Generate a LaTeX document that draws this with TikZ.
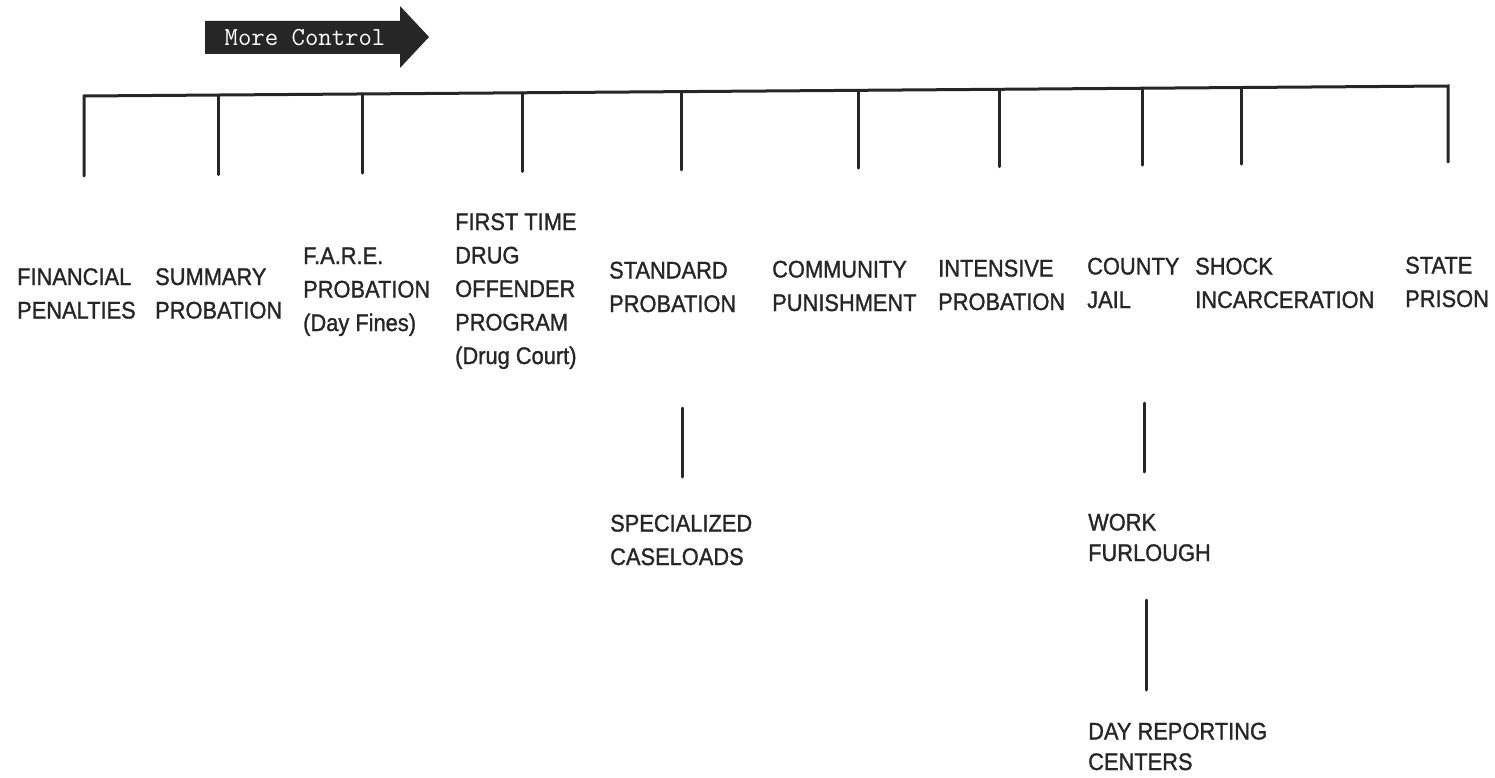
\documentclass[tikz,border=0pt]{standalone}
\usepackage{fontspec}
\setmainfont{Liberation Sans}[FakeStretch=0.91,FakeBold=1.2]
\definecolor{ink}{HTML}{262626}
\begin{document}
\begin{tikzpicture}[x=1pt,y=-1pt,
  lbl/.style={anchor=base west,inner sep=0pt,align=left,text=ink,
    font=\fontsize{24}{33.5}\selectfont},
  lblb/.style={lbl,font=\fontsize{24}{30.5}\selectfont},
  rule/.style={draw=ink,line width=3pt,line cap=round,line join=miter},
  arrowtxt/.style={text=white,inner sep=0pt,font=\ttfamily\fontsize{26}{26}\selectfont}]
\useasboundingbox[fill=white] (0,0) rectangle (1495,778);
% More Control arrow
\fill[ink] (205,21) -- (400,21) -- (400,6) -- (429,37) -- (400,68) -- (400,54) -- (205,54) -- cycle;
\node[arrowtxt] (mc) at (305,38) {More Control};
% bar and ticks
\foreach \i/\x/\y/\b in {1/84/96/176,2/218/95/174.6,3/362/94/173.1,4/522/92.8/171.5,
  5/681/91.6/169.9,6/858/90.3/168.1,7/999/89.3/166.6,8/1142/88.2/165.1,
  9/1241/87.5/164.1,10/1448/86/162}{
  \coordinate (t\i) at (\x,\y);
  \coordinate (b\i) at (\x,\b);
}
\draw[rule] (b1) -- (t1) -- (t10) -- (b10);
\foreach \i in {2,...,9}{\draw[rule] (t\i) -- (b\i);}
% labels (anchor = baseline of last line)
\node[lbl] (fin) at (17,318.5) {FINANCIAL\\PENALTIES};
\node[lbl] (sum) at (155,318.5) {SUMMARY\\PROBATION};
\node[lbl] (fare) at (303,331) {F.A.R.E.\\PROBATION\\(Day Fines)};
\node[lbl] (ftd) at (455,364) {FIRST TIME\\DRUG\\OFFENDER\\PROGRAM\\(Drug Court)};
\node[lbl] (std) at (609,312) {STANDARD\\PROBATION};
\node[lbl] (com) at (772,311) {COMMUNITY\\PUNISHMENT};
\node[lbl] (int) at (938,310) {INTENSIVE\\PROBATION};
\node[lbl] (cj) at (1087,308) {COUNTY\\JAIL};
\node[lbl] (shk) at (1195,308) {SHOCK\\INCARCERATION};
\node[lbl] (sp) at (1405,307) {STATE\\PRISON};
\node[lbl] (spc) at (610,565) {SPECIALIZED\\CASELOADS};
\node[lblb] (wf) at (1088,561) {WORK\\FURLOUGH};
\node[lblb] (drc) at (1088,770) {DAY REPORTING\\CENTERS};
% sub connectors
\coordinate (s1) at (682,408); \coordinate (s2) at (682,477);
\coordinate (c1) at (1144,403); \coordinate (c2) at (1144,472);
\coordinate (w1) at (1146,600); \coordinate (w2) at (1146,690);
\draw[rule] (s1) -- (s2);
\draw[rule] (c1) -- (c2);
\draw[rule] (w1) -- (w2);
\end{tikzpicture}
\end{document}
